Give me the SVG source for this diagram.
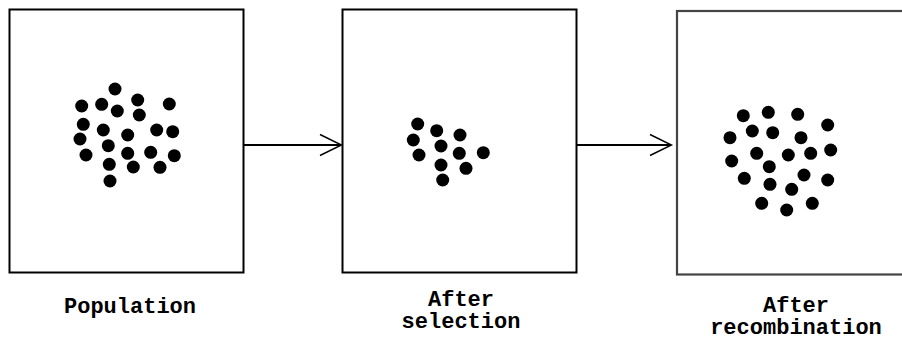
<svg xmlns="http://www.w3.org/2000/svg" width="902" height="343" viewBox="0 0 902 343">
<style>
.box{fill:#fff;stroke:#000;stroke-width:2}
.box3{fill:#fff;stroke:#444;stroke-width:2.2}
.dot{fill:#000}
.lbl{font-family:"Liberation Mono","Courier New",monospace;font-weight:bold;font-size:22px;fill:#000;text-anchor:middle}
.conn{stroke:#000;stroke-width:2;fill:none}
.head{stroke:#000;stroke-width:1.4;fill:none}
</style>
<defs>
<circle id="d" r="6.5" class="dot"/>
</defs>
<g id="population">
<rect class="box" x="9.5" y="9.5" width="234" height="263"/>
<use href="#d" x="115" y="89"/><use href="#d" x="81.7" y="106"/><use href="#d" x="101.7" y="104.3"/><use href="#d" x="137.7" y="100"/><use href="#d" x="169.3" y="104"/><use href="#d" x="117.3" y="111"/><use href="#d" x="139.3" y="115"/><use href="#d" x="83.3" y="124.3"/><use href="#d" x="103.3" y="130"/><use href="#d" x="127.7" y="135"/><use href="#d" x="156.7" y="130"/><use href="#d" x="172.7" y="131.7"/><use href="#d" x="80" y="139"/><use href="#d" x="108.3" y="145.7"/><use href="#d" x="86" y="155"/><use href="#d" x="127.7" y="153.3"/><use href="#d" x="150.7" y="152.3"/><use href="#d" x="174.3" y="155.7"/><use href="#d" x="109.3" y="164.3"/><use href="#d" x="133.3" y="167"/><use href="#d" x="160" y="167.3"/><use href="#d" x="110" y="181"/>
<text class="lbl" x="130" y="313">Population</text>
</g>
<g id="selection">
<rect class="box" x="342.5" y="9.5" width="234" height="263"/>
<use href="#d" x="417.7" y="124"/><use href="#d" x="436.7" y="130.7"/><use href="#d" x="413.3" y="140"/><use href="#d" x="460" y="135"/><use href="#d" x="441" y="146"/><use href="#d" x="419" y="155"/><use href="#d" x="459.3" y="153.3"/><use href="#d" x="483.3" y="152.7"/><use href="#d" x="441" y="165"/><use href="#d" x="466" y="168.3"/><use href="#d" x="442.7" y="180"/>
<text class="lbl" x="461" y="306">After</text>
<text class="lbl" x="461" y="328">selection</text>
</g>
<g id="recombination">
<rect class="box3" x="677" y="11" width="240" height="263.5"/>
<use href="#d" x="743.3" y="115.7"/><use href="#d" x="768.3" y="112.3"/><use href="#d" x="797.7" y="114.3"/><use href="#d" x="827.7" y="125"/><use href="#d" x="752.3" y="131"/><use href="#d" x="772.7" y="132.7"/><use href="#d" x="801" y="137.7"/><use href="#d" x="730" y="137.7"/><use href="#d" x="756.7" y="153.3"/><use href="#d" x="788.3" y="155"/><use href="#d" x="810.7" y="153.3"/><use href="#d" x="830.7" y="150"/><use href="#d" x="731.7" y="161"/><use href="#d" x="769.3" y="166.7"/><use href="#d" x="744.3" y="178.3"/><use href="#d" x="804" y="175"/><use href="#d" x="827.7" y="180"/><use href="#d" x="770" y="184.3"/><use href="#d" x="791.7" y="189.3"/><use href="#d" x="761.7" y="203.3"/><use href="#d" x="786.7" y="210"/><use href="#d" x="812.3" y="203.3"/>
<text class="lbl" x="796" y="312">After</text>
<text class="lbl" x="796" y="334">recombination</text>
</g>
<g id="connectors">
<line class="conn" x1="244" y1="145" x2="341" y2="145"/>
<polyline class="head" points="320,134.5 341.5,145 320,155.5"/>
<line class="conn" x1="577" y1="145" x2="671" y2="145"/>
<polyline class="head" points="650,134.5 671.5,145 650,155.5"/>
</g>
</svg>
